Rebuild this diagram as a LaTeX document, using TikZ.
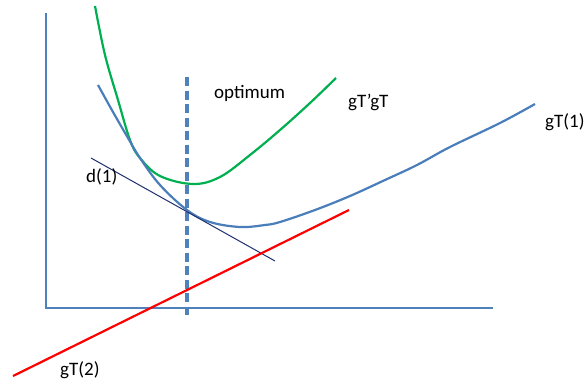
\documentclass[tikz,border=0pt]{standalone}
\usepackage{fontspec}
\setmainfont{Carlito}
\definecolor{axblue}{HTML}{4F81BD}
\definecolor{cvblue}{HTML}{4A7EBB}
\definecolor{cvgreen}{HTML}{00B050}
\definecolor{navy}{HTML}{1F2F6E}
\begin{document}
\begin{tikzpicture}[x=1pt,y=-1pt,
  lbl/.style={anchor=base west,inner sep=0pt,font=\fontsize{19}{22}\selectfont},
  axisline/.style={axblue,line width=2.2pt},
  curve/.style={line width=2.2pt}]
\useasboundingbox (0,0) rectangle (584,383);
% axes
\draw[axisline] (46,13) -- (46,308) -- (493,308);
% dashed optimum line
\draw[axblue,line width=3.2pt,dash pattern=on 9pt off 4.5pt] (187,77) -- (187,315);
% green curve gT'gT
\draw[cvgreen,curve] plot[smooth,tension=0.6] coordinates {(95,6) (105,55) (118,100) (130,140) (140,158) (160,176) (193,184) (220,177) (250,155) (280,130) (310,103) (336,78)};
% blue curve gT(1)
\draw[cvblue,curve] plot[smooth,tension=0.6] coordinates {(98,85) (113,112) (128,138) (140,158) (160,185) (187,210) (210,222) (240,227) (265,225) (280,222) (315,210) (350,196) (385,180) (417,165) (450,147) (500,123) (535,104)};
% tangent d(1)
\coordinate (t1) at (91,158);
\coordinate (t2) at (275,261);
\draw[navy,line width=1pt] (t1) -- (t2);
% red line gT(2)
\coordinate (r1) at (13,376);
\coordinate (r2) at (349,210);
\draw[red,line width=2.2pt] (r1) -- (r2);
% labels
\node[lbl] (opt) at (214,98) {optimum};
\node[lbl] (gtg) at (348,107) {gT’gT};
\node[lbl] (gt1) at (545,127) {gT(1)};
\node[lbl] (d1) at (86,182) {d(1)};
\node[lbl] (gt2) at (60,375) {gT(2)};
\end{tikzpicture}
\end{document}
